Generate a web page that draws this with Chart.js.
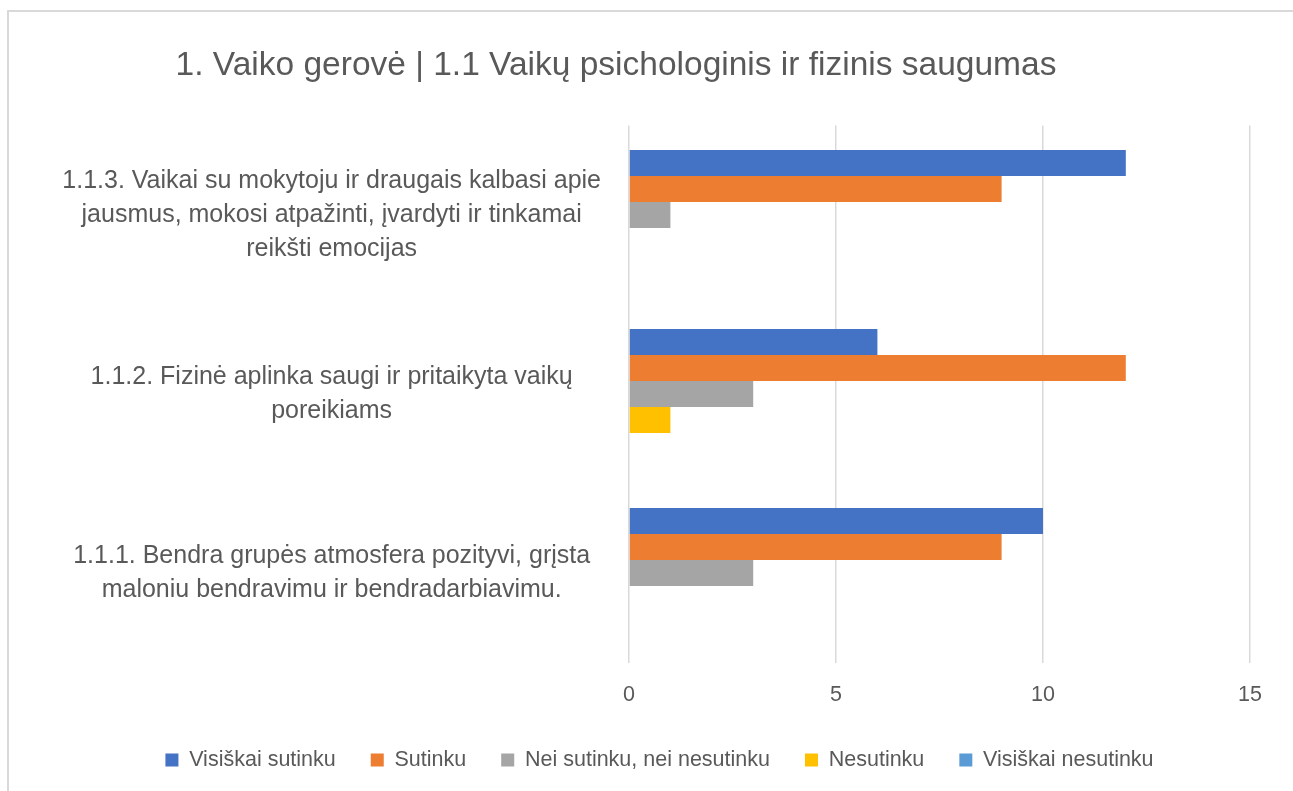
<!DOCTYPE html>
<html>
<head>
<meta charset="utf-8">
<script src="https://cdn.jsdelivr.net/npm/chart.js"></script>
<style>
  html, body { margin: 0; padding: 0; background: #fff; overflow: hidden; }
  #frame { position: absolute; left: 7px; top: 10px; width: 1320px; height: 820px; border: 2px solid #d9d9d9; box-sizing: border-box; }
  #barChart { position: absolute; left: 0; top: 0; }
</style>
</head>
<body>
<div id="frame"></div>
<canvas id="barChart" width="1293" height="791"></canvas>
<script>
// chart data
const chartTitle = '1. Vaiko gerovė | 1.1 Vaikų psichologinis ir fizinis saugumas';
const categories = [
    ['1.1.3. Vaikai su mokytoju ir draugais kalbasi apie', 'jausmus, mokosi atpažinti, įvardyti ir tinkamai', 'reikšti emocijas'],
    ['1.1.2. Fizinė aplinka saugi ir pritaikyta vaikų', 'poreikiams'],
    ['1.1.1. Bendra grupės atmosfera pozityvi, grįsta', 'maloniu bendravimu ir bendradarbiavimu.']
];
const seriesNames = ['Visiškai sutinku', 'Sutinku', 'Nei sutinku, nei nesutinku', 'Nesutinku', 'Visiškai nesutinku'];
const visiskaiSutinku = [12, 6, 10];
const sutinku = [9, 12, 9];
const neiSutinkuNeiNesutinku = [1, 3, 3];
const nesutinku = [0, 1, 0];
const visiskaiNesutinku = [0, 0, 0];
const xMin = 0;
const xMax = 15;
const xStep = 5;

const textColor = '#595959';
const fontFamily = '"Liberation Sans", Arial, sans-serif';

// title sits a bit left of centre, like in the original sheet
const titlePlugin = {
    id: 'sheetTitle',
    afterDraw(chart) {
        const c = chart.ctx;
        c.save();
        c.font = '33.5px ' + fontFamily;
        c.fillStyle = textColor;
        c.textAlign = 'center';
        c.textBaseline = 'alphabetic';
        c.fillText(chartTitle, 616, 75);
        c.restore();
    }
};

// long category labels run past the axis box, so don't let them get clipped
const labelRoom = {
    id: 'labelRoom',
    afterLayout(chart) {
        chart.scales.y.left = 0;
    }
};

const ctx = document.getElementById('barChart').getContext('2d');
const myChart = new Chart(ctx, {
    type: 'bar',
    data: {
        labels: categories,
        datasets: [{
                label: seriesNames[0],
                backgroundColor: '#4472C4',
                data: visiskaiSutinku
            },
            {
                label: seriesNames[1],
                backgroundColor: '#ED7D31',
                data: sutinku
            },
            {
                label: seriesNames[2],
                backgroundColor: '#A5A5A5',
                data: neiSutinkuNeiNesutinku
            },
            {
                label: seriesNames[3],
                backgroundColor: '#FFC000',
                data: nesutinku
            },
            {
                label: seriesNames[4],
                backgroundColor: '#5B9BD5',
                data: visiskaiNesutinku
            }
        ]
    },
    options: {
        indexAxis: 'y',
        responsive: false,
        animation: false,
        devicePixelRatio: 1,
        categoryPercentage: 0.726,
        barPercentage: 1,
        layout: {
            padding: { left: 69, right: 43, top: 125.5, bottom: 10.25 }
        },
        plugins: {
            title: { display: false },
            tooltip: { enabled: false },
            legend: {
                position: 'bottom',
                labels: {
                    boxWidth: 13,
                    boxHeight: 13,
                    padding: 35,
                    color: textColor,
                    font: { family: fontFamily, size: 21.5 }
                }
            }
        },
        scales: {
            x: {
                min: xMin,
                max: xMax,
                ticks: {
                    stepSize: xStep,
                    padding: 19.5,
                    color: textColor,
                    font: { family: fontFamily, size: 21.5 }
                },
                grid: {
                    color: '#d9d9d9',
                    lineWidth: 1.5,
                    drawTicks: false
                },
                border: { display: false },
                afterFit: function(scale) {
                    scale.height = 51.75;
                }
            },
            y: {
                ticks: {
                    crossAlign: 'center',
                    padding: 28,
                    color: textColor,
                    font: { family: fontFamily, size: 25, lineHeight: 1.36 }
                },
                grid: { display: false, drawTicks: false },
                border: { display: false },
                afterFit: function(scale) {
                    scale.width = 560;
                }
            }
        }
    },
    plugins: [titlePlugin, labelRoom]
});
</script>
</body>
</html>
